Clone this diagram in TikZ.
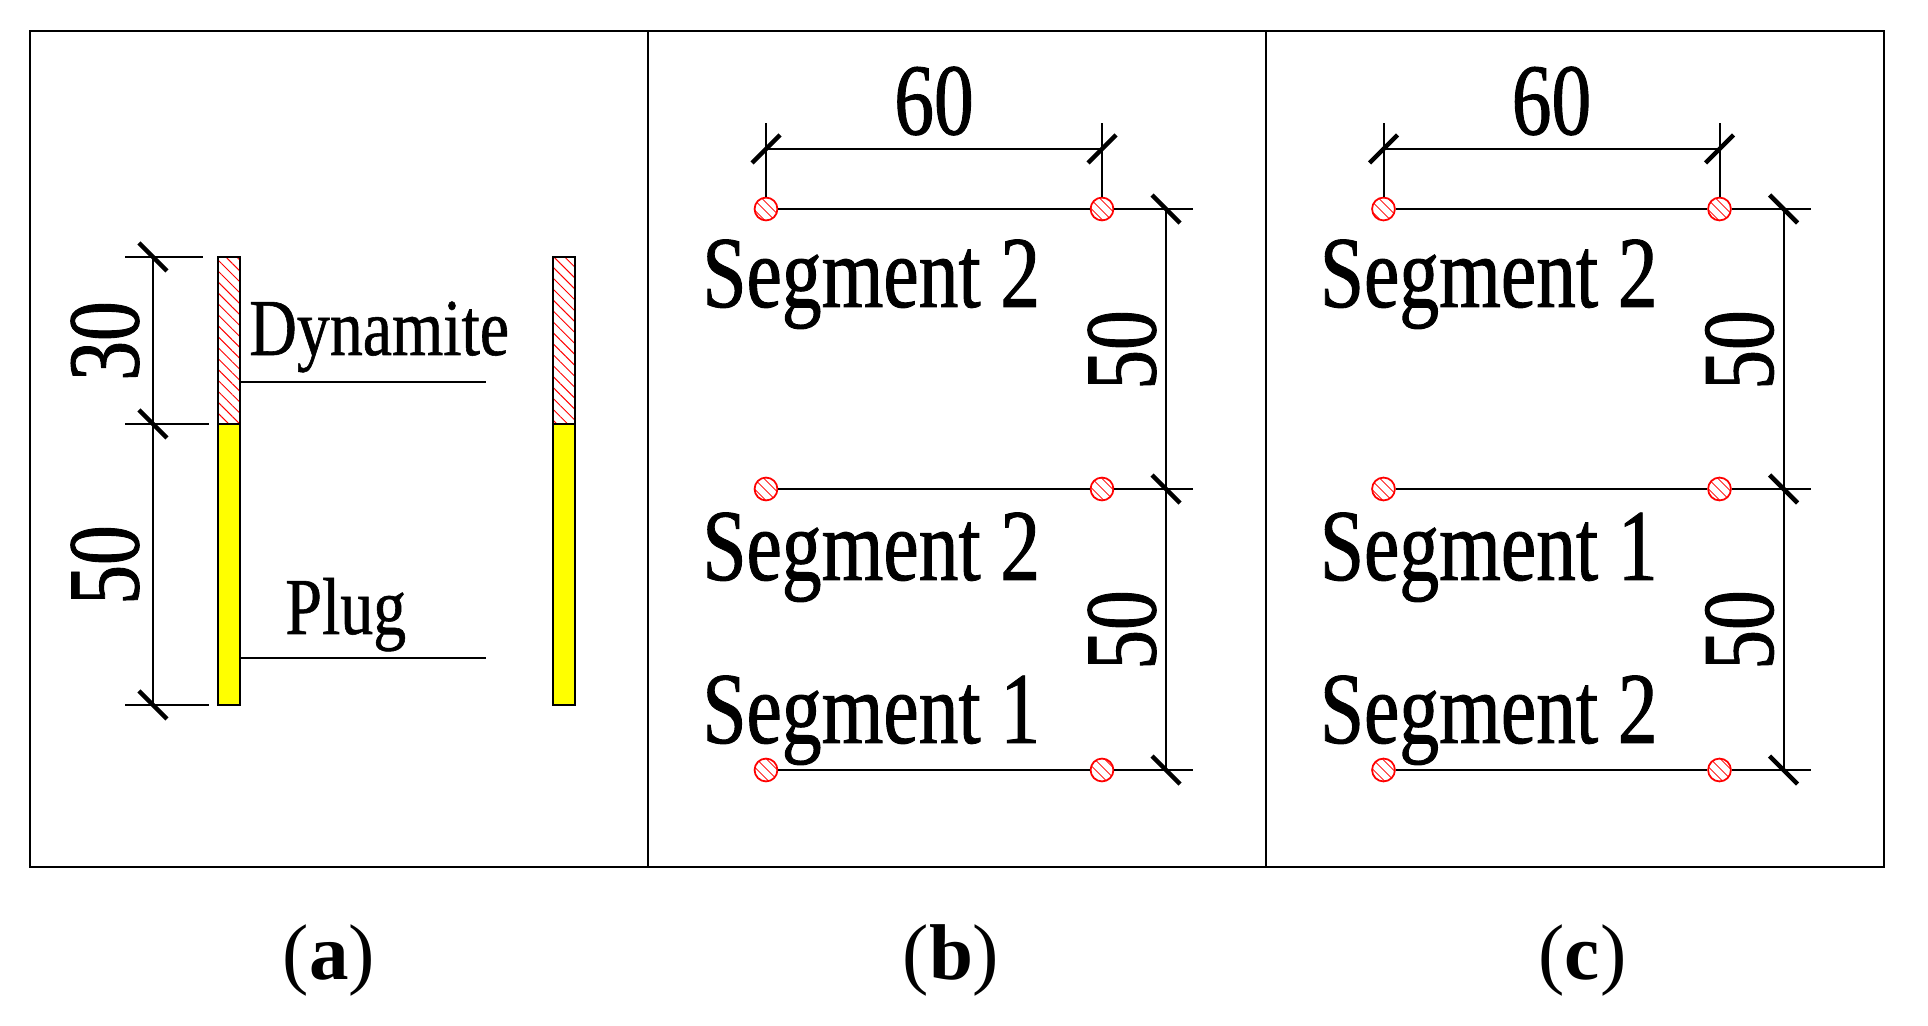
\documentclass[tikz,border=0pt]{standalone}
\usepackage{fontspec}
\setmainfont{Liberation Serif}
\newfontfamily\cadfont[FakeStretch=0.78,FakeBold=0.9]{Liberation Serif}
\newfontfamily\notefont[FakeStretch=0.815,FakeBold=0.7]{Liberation Serif}
\usepackage[HTML]{xcolor}
\usetikzlibrary{patterns.meta}

\begin{document}
\begin{tikzpicture}[x=0.02cm, y=-0.02cm,
  frame/.style={line width=1.2pt},
  thinline/.style={line width=1.15pt},
  dimtick/.style={line width=2.6pt},
  hatched/.style={pattern={Lines[angle=-45,distance=4.4pt,line width=0.55pt]}, pattern color=red},
  hole/.style={circle, draw=red, line width=1pt, minimum size=13pt, inner sep=0pt,
    pattern={Lines[angle=-45,distance=4pt,line width=0.5pt]}, pattern color=red},
  cadtext/.style={font=\cadfont\fontsize{58}{60}\selectfont, inner sep=0pt},
  seglabel/.style={cadtext, anchor=base west},
  notelabel/.style={font=\notefont\fontsize{46}{48}\selectfont, inner sep=0pt, anchor=base west},
  caption/.style={font=\fontsize{45}{48}\selectfont, inner sep=0pt, anchor=base}]
\useasboundingbox (0,0) rectangle (1928,1026);
\fill[white] (0,0) rectangle (1928,1026);

% Panels
\draw[frame] (30,31) rectangle (1884,867);
\draw[frame] (648,31) -- (648,867);
\draw[frame] (1266,31) -- (1266,867);

% Panel (a)
\filldraw[thinline, fill=yellow] (218,424) rectangle (240,705);
\fill[white] (218,257) rectangle (240,424);
\draw[thinline, hatched] (218,257) rectangle (240,424);
\filldraw[thinline, fill=yellow] (553,424) rectangle (575,705);
\fill[white] (553,257) rectangle (575,424);
\draw[thinline, hatched] (553,257) rectangle (575,424);
\coordinate (atop) at (153,257);
\coordinate (amid) at (153,424);
\coordinate (abot) at (153,705);
\draw[thinline] (atop) -- (abot);
\draw[thinline] (125,257) -- (203,257);
\draw[thinline] (125,424) -- (209,424);
\draw[thinline] (125,705) -- (209,705);
\draw[dimtick] (atop) ++(-14,-14) -- ++(28,28);
\draw[dimtick] (amid) ++(-14,-14) -- ++(28,28);
\draw[dimtick] (abot) ++(-14,-14) -- ++(28,28);
\node[cadtext, rotate=90] (athirty) at (105,341) {30};
\node[cadtext, rotate=90] (afifty) at (105,565) {50};
\draw[thinline] (240,382) -- (486,382);
\draw[thinline] (240,658) -- (486,658);
\node[notelabel] (dynamite) at (249,355) {Dynamite};
\node[notelabel] (plug) at (285,634) {Plug};
\node[caption] (capa) at (329,979) {(\textbf{a})};

% Panel (b)
\begin{scope}
\node[hole] (b1) at (766,209) {};
\node[hole] (b2) at (1102,209) {};
\node[hole] (b3) at (766,489) {};
\node[hole] (b4) at (1102,489) {};
\node[hole] (b5) at (766,770) {};
\node[hole] (b6) at (1102,770) {};
\coordinate (btopl) at (766,149);
\coordinate (btopr) at (1102,149);
\coordinate (bdim1) at (1166,209);
\coordinate (bdim2) at (1166,489);
\coordinate (bdim3) at (1166,770);
\draw[thinline] (b1) -- (b2);
\draw[thinline] (b2) -- (1193,209);
\draw[thinline] (b3) -- (b4);
\draw[thinline] (b4) -- (1193,489);
\draw[thinline] (b5) -- (b6);
\draw[thinline] (b6) -- (1193,770);
\draw[thinline] (b1) -- (766,123);
\draw[thinline] (b2) -- (1102,123);
\draw[thinline] (btopl) -- (btopr);
\draw[thinline] (bdim1) -- (bdim3);
\draw[dimtick] (btopl) ++(-14,14) -- ++(28,-28);
\draw[dimtick] (btopr) ++(-14,14) -- ++(28,-28);
\draw[dimtick] (bdim1) ++(-14,-14) -- ++(28,28);
\draw[dimtick] (bdim2) ++(-14,-14) -- ++(28,28);
\draw[dimtick] (bdim3) ++(-14,-14) -- ++(28,28);
\node[cadtext] (bwidth) at (934,101) {60};
\node[cadtext, rotate=90] (bupper) at (1122,350) {50};
\node[cadtext, rotate=90] (blower) at (1122,630) {50};
\node[seglabel] (bseg3) at (702,307) {Segment 2};
\node[seglabel] (bseg2) at (702,580) {Segment 2};
\node[seglabel] (bseg1) at (702,743) {Segment 1};
\node[caption] (capb) at (951,979) {(\textbf{b})};
\end{scope}

% Panel (c)
\begin{scope}[xshift=617.5*0.02cm]
\node[hole] (c1) at (766,209) {};
\node[hole] (c2) at (1102,209) {};
\node[hole] (c3) at (766,489) {};
\node[hole] (c4) at (1102,489) {};
\node[hole] (c5) at (766,770) {};
\node[hole] (c6) at (1102,770) {};
\coordinate (ctopl) at (766,149);
\coordinate (ctopr) at (1102,149);
\coordinate (cdim1) at (1166,209);
\coordinate (cdim2) at (1166,489);
\coordinate (cdim3) at (1166,770);
\draw[thinline] (c1) -- (c2);
\draw[thinline] (c2) -- (1193,209);
\draw[thinline] (c3) -- (c4);
\draw[thinline] (c4) -- (1193,489);
\draw[thinline] (c5) -- (c6);
\draw[thinline] (c6) -- (1193,770);
\draw[thinline] (c1) -- (766,123);
\draw[thinline] (c2) -- (1102,123);
\draw[thinline] (ctopl) -- (ctopr);
\draw[thinline] (cdim1) -- (cdim3);
\draw[dimtick] (ctopl) ++(-14,14) -- ++(28,-28);
\draw[dimtick] (ctopr) ++(-14,14) -- ++(28,-28);
\draw[dimtick] (cdim1) ++(-14,-14) -- ++(28,28);
\draw[dimtick] (cdim2) ++(-14,-14) -- ++(28,28);
\draw[dimtick] (cdim3) ++(-14,-14) -- ++(28,28);
\node[cadtext] (cwidth) at (934,101) {60};
\node[cadtext, rotate=90] (cupper) at (1122,350) {50};
\node[cadtext, rotate=90] (clower) at (1122,630) {50};
\node[seglabel] (cseg3) at (702,307) {Segment 2};
\node[seglabel] (cseg2) at (702,580) {Segment 1};
\node[seglabel] (cseg1) at (702,743) {Segment 2};
\node[caption] (capc) at (965,979) {(\textbf{c})};
\end{scope}
\end{tikzpicture}
\end{document}
